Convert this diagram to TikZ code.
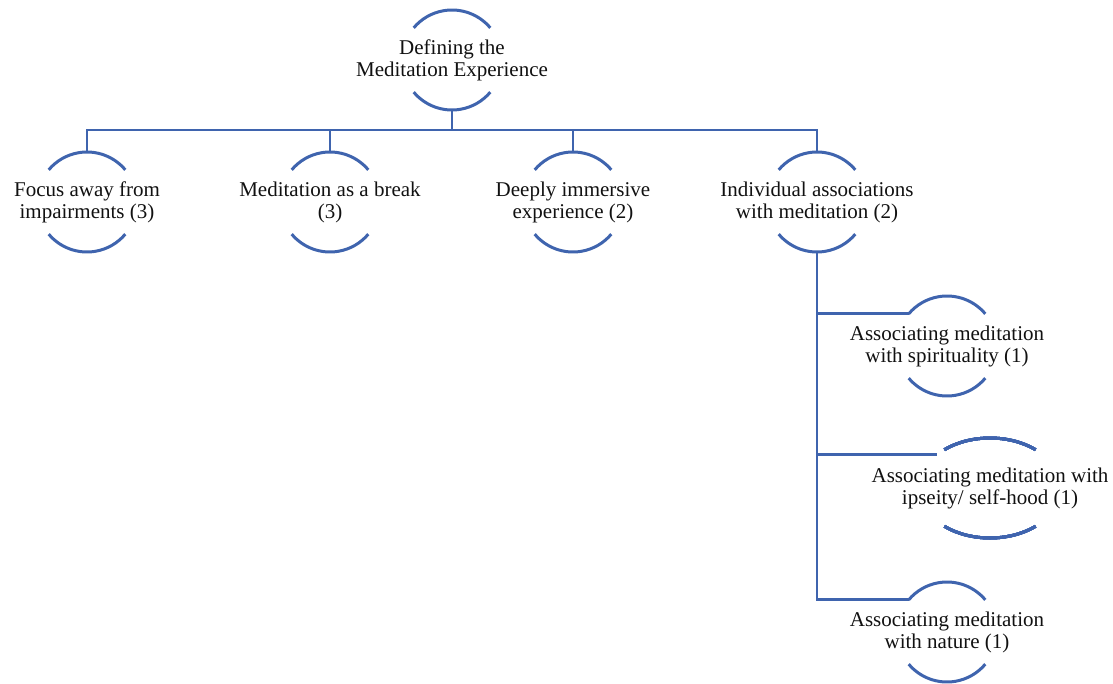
\documentclass[tikz,border=0pt]{standalone}
\usepackage{fontspec}
\setmainfont{Liberation Serif}
\usetikzlibrary{positioning, calc, shapes.geometric}
\definecolor{clrline}{HTML}{3F64AE}
\definecolor{clrtext}{HTML}{111111}

\newcommand{\ringcaps}[4]{%
  \draw[arcline] ($(#1.center)+(#4:#2 and #3)$) arc[start angle=#4, end angle=180-#4, x radius=#2, y radius=#3];
  \draw[arcline] ($(#1.center)+({180+#4}:#2 and #3)$) arc[start angle=180+#4, end angle=360-#4, x radius=#2, y radius=#3];
}

\begin{document}
\begin{tikzpicture}[
    x=0.5pt, y=-0.5pt,
    ring/.style={circle, minimum size=50pt, inner sep=0pt, outer sep=0pt},
    widering/.style={ellipse, minimum width=71pt, minimum height=50pt, inner sep=0pt, outer sep=0pt},
    txt/.style={align=center, inner sep=0pt, text=clrtext, font=\fontsize{10.5}{11}\selectfont},
    arcline/.style={draw=clrline, line width=1.5pt},
    link/.style={draw=clrline, line width=1.4pt},
]
\useasboundingbox (0,0) rectangle (1113,684);
\node[ring] (root) at (452,60) {};
\node[txt] (root_t) at (root.center) {Defining the\\Meditation Experience};
\coordinate (bar) at (452,130);
\node[ring] (focus) at (87,202) {};
\node[txt] (focus_t) at (focus.center) {Focus away from\\impairments (3)};
\node[ring] (brk) at (330,202) {};
\node[txt] (brk_t) at (brk.center) {Meditation as a break\\(3)};
\node[ring] (immersive) at (573,202) {};
\node[txt] (immersive_t) at (immersive.center) {Deeply immersive\\experience (2)};
\node[ring] (individual) at (817,202) {};
\node[txt] (individual_t) at (individual.center) {Individual associations\\with meditation (2)};
\node[ring] (spirit) at (947,346) {};
\node[txt] (spirit_t) at (spirit.center) {Associating meditation\\with spirituality (1)};
\node[widering] (ipseity) at (990,488) {};
\node[txt] (ipseity_t) at (ipseity.center) {Associating meditation with\\ipseity/ self-hood (1)};
\node[ring] (nature) at (947,632) {};
\node[txt] (nature_t) at (nature.center) {Associating meditation\\with nature (1)};
\foreach \n in {root, focus, brk, immersive, individual, spirit, nature}
  \ringcaps{\n}{25pt}{25pt}{40}
\ringcaps{ipseity}{35.5pt}{25pt}{50}
\foreach \n in {focus, brk, immersive, individual}
  \draw[link] (root.south) -- (root.south |- bar) -| (\n.north);
\foreach \n/\a in {spirit/140, ipseity/148, nature/140}
  \draw[link] (individual.south) |- (\n.\a);
\end{tikzpicture}
\end{document}
